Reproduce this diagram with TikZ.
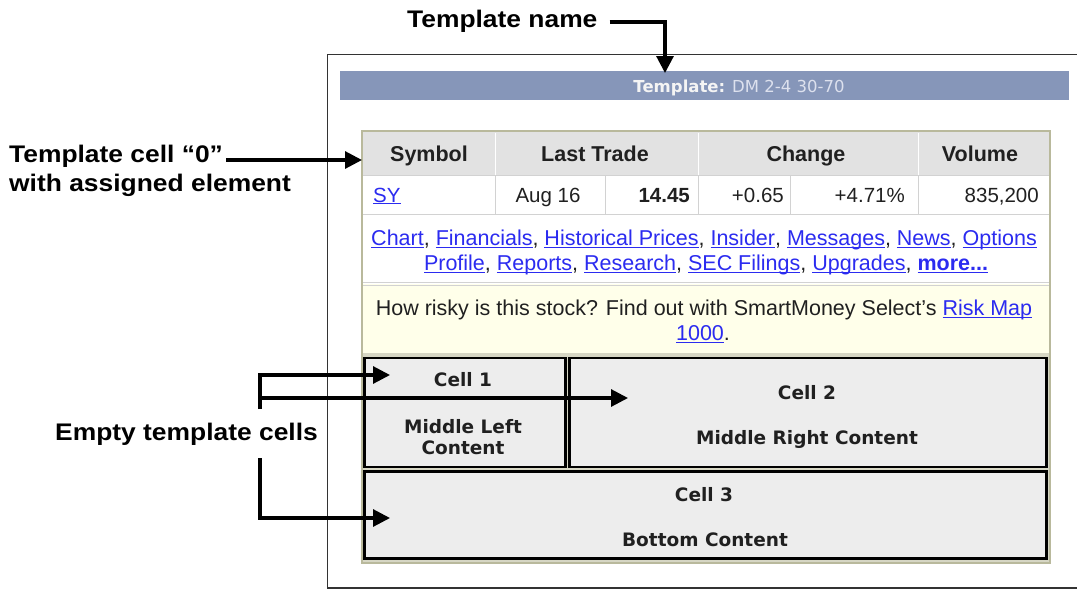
\documentclass[tikz,border=0pt]{standalone}
\usepackage{fontspec}
\setmainfont{Liberation Sans}
\newfontfamily\labfont{Liberation Sans}[FakeStretch=1.1]
\newfontfamily\vfont{DejaVu Sans}
\usetikzlibrary{arrows.meta}
\definecolor{barblue}{HTML}{8696B9}
\definecolor{linkblue}{HTML}{2B2BF0}
\definecolor{tblborder}{HTML}{B9B99C}
\definecolor{hdrgray}{HTML}{E2E2E2}
\definecolor{cellgap}{HTML}{D6D6C4}
\definecolor{cellfill}{HTML}{EDEDED}
\definecolor{yel}{HTML}{FFFFEA}
\definecolor{divgray}{HTML}{D2D2D2}
\definecolor{txt}{HTML}{202020}
\definecolor{framec}{HTML}{333333}
\newcommand\lk[1]{{\color{linkblue}\setbox0=\hbox{#1}\rlap{\rule[-2.2pt]{\wd0}{1pt}}\box0}}
\begin{document}
\begin{tikzpicture}[x=1pt,y=-1pt,
  lab/.style={font=\labfont\bfseries\fontsize{24}{28}\selectfont, inner sep=0pt, anchor=base west},
  hd/.style={font=\bfseries\fontsize{21.5}{25}\selectfont, text=txt, inner sep=0pt, anchor=base},
  dt/.style={font=\fontsize{20.5}{24}\selectfont, text=txt, inner sep=0pt, anchor=base},
  lt/.style={font=\fontsize{21.5}{25}\selectfont, text=txt, inner sep=0pt, anchor=base},
  cl/.style={font=\vfont\bfseries\fontsize{18.5}{22}\selectfont, text=txt, inner sep=0pt, anchor=base},
  arr/.style={line width=3.1pt, -{Triangle[length=17pt,width=17pt]}},
  cellbox/.style={draw=black, line width=2.6pt, fill=cellfill}]
\useasboundingbox (0,0) rectangle (1077,590);
% frame
\draw[framec, line width=1.5pt] (1078,54.5) -- (327.5,54.5) -- (327.5,588) -- (1078,588);
% title bar
\fill[barblue] (340,71) rectangle (1069,100);
\node[font=\vfont\fontsize{16.5}{20}\selectfont, inner sep=0pt, anchor=base] (barname) at (739,92)
  {{\color[HTML]{F4F4F4}\bfseries Template:} {\color[HTML]{DDE1EE}DM 2-4 30-70}};
% table
\draw[tblborder, line width=2pt, fill=white] (362,131) rectangle (1050,563);
\fill[hdrgray] (363,132) rectangle (1049,175);
\fill[yel] (363,284) rectangle (1049,353);
\fill[cellgap] (363,353) rectangle (1049,562);
\draw[divgray, line width=1pt] (363,175) -- (1049,175);
\draw[divgray, line width=1pt] (363,214) -- (1049,214);
\draw[divgray, line width=1pt] (363,282) -- (1049,282);
\draw[divgray, line width=1pt] (363,285) -- (1049,285);
\foreach \x in {495,698,918} \draw[white, line width=1pt] (\x,133) -- (\x,175);
\foreach \x in {495,605,698,790,918} \draw[divgray, line width=1pt] (\x,175) -- (\x,214);
% header
\node[hd] (hsym) at (429,161.5) {Symbol};
\node[hd] (hlt) at (595,161.5) {Last Trade};
\node[hd] (hch) at (806,161.5) {Change};
\node[hd] (hvol) at (980,161.5) {Volume};
% data row
\node[dt, anchor=base west] (dsy) at (373,202) {\lk{SY}};
\node[dt] (ddate) at (548,202) {Aug 16};
\node[dt, anchor=base east] (dlast) at (690,202) {\textbf{14.45}};
\node[dt, anchor=base east] (dchg) at (784,202) {+0.65};
\node[dt, anchor=base east] (dpct) at (905,202) {+4.71\%};
\node[dt, anchor=base east] (dvol) at (1039,202) {835,200};
% links
\node[lt] (links1) at (704,245.5) {\lk{Chart}, \lk{Financials}, \lk{Historical Prices}, \lk{Insider}, \lk{Messages}, \lk{News}, \lk{Options}};
\node[lt] (links2) at (706,270.5) {\lk{Profile}, \lk{Reports}, \lk{Research}, \lk{SEC Filings}, \lk{Upgrades}, \lk{\textbf{more...}}};
% risk row
\node[lt] (risk1) at (704,315.5) {How risky is this stock? Find out with SmartMoney Select's \lk{Risk Map}};
\node[lt] (risk2) at (703,340.5) {\lk{1000}.};
% cells
\draw[cellbox] (364.5,358) rectangle (565.5,467);
\draw[cellbox] (569.5,358) rectangle (1046.5,467);
\draw[cellbox] (364.5,471.5) rectangle (1046.5,558.5);
\node[cl] (c1a) at (463,386) {Cell 1};
\node[cl] (c1b) at (463,433) {Middle Left};
\node[cl] (c1c) at (463,454) {Content};
\node[cl] (c2a) at (807,399) {Cell 2};
\node[cl] (c2b) at (807,444) {Middle Right Content};
\node[cl] (c3a) at (704,501) {Cell 3};
\node[cl] (c3b) at (705,546) {Bottom Content};
% labels
\node[lab] (tname) at (407,27) {Template name};
\node[lab] (tc0a) at (9,162) {Template cell “0”};
\node[lab] (tc0b) at (9,191) {with assigned element};
\node[lab] (ecells) at (55,440) {Empty template cells};
% connectors
\coordinate (barin) at (665,73);
\coordinate (tblin) at (362,160);
\coordinate (c1in) at (390,375);
\coordinate (c2in) at (628,398);
\coordinate (c3in) at (390,518);
\coordinate (bk1) at (260,409);
\coordinate (bk2) at (260,458);
\draw[arr] (tname.base east) ++(12,-5) -| (barin);
\draw[arr] (tc0a.base east |- tblin) ++(3,0) -- (tblin);
\draw[arr] (bk1) |- (c1in);
\draw[arr] (bk1 |- c2in) -- (c2in);
\draw[arr] (bk2) |- (c3in);
\end{tikzpicture}
\end{document}
